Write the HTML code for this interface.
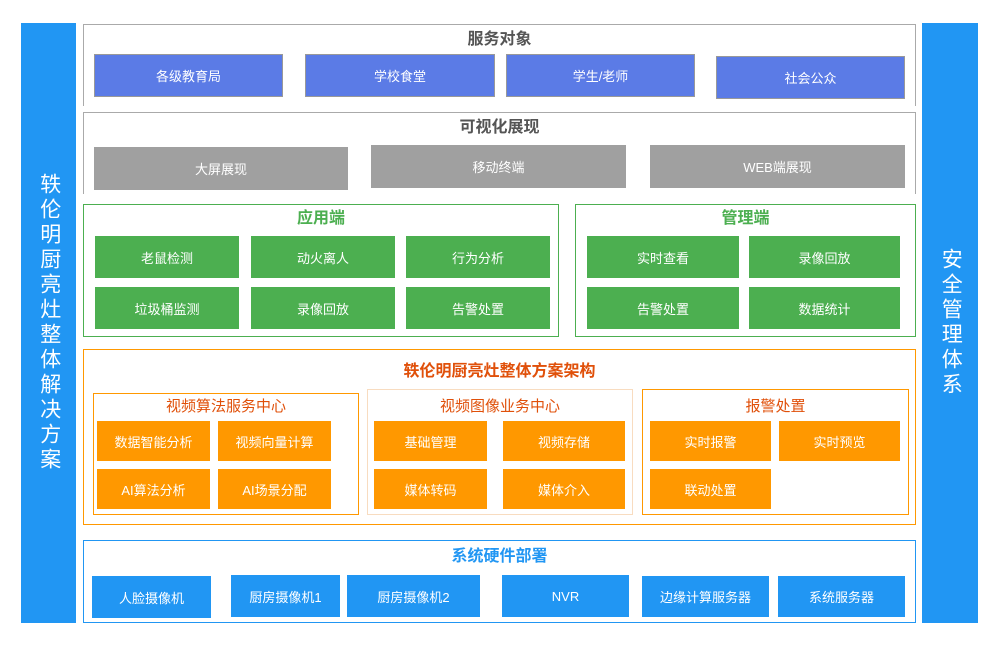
<!DOCTYPE html>
<html><head><meta charset="utf-8"><style>
*{margin:0;padding:0;box-sizing:border-box}
body{width:1000px;height:646px;background:#fff;position:relative;overflow:hidden;font-family:"Liberation Sans","Noto Sans CJK SC",sans-serif}
div{position:absolute}
.b{color:#fff;font-size:13px;display:flex;align-items:center;justify-content:center}
.t{font-weight:bold;font-size:16px;text-align:center;line-height:20px}
.s{font-size:15px;text-align:center;color:#e0500a;line-height:20px}
.bl{background:#5b7be6;border:1px solid #999}
.gr{background:#a0a0a0}
.gn{background:#4caf50}
.or{background:#ff9800}
.bu{background:#2196f3}
.v{color:#fff;font-size:21px;line-height:26.5px;text-align:center;display:flex;align-items:center;justify-content:center;writing-mode:vertical-rl;letter-spacing:4px;background:#2196f3}
</style></head><body>
<div class="v" style="left:21px;top:23px;width:55px;height:600px">轶伦明厨亮灶整体解决方案</div>
<div class="v" style="left:922px;top:23px;width:56px;height:600px">安全管理体系</div>

<div style="left:83px;top:24px;width:833px;height:82px;border:1px solid #aaa;border-bottom:none"></div>
<div class="t" style="left:83px;top:30px;width:833px;color:#555">服务对象</div>
<div class="b bl" style="left:94px;top:54px;width:189px;height:43px">各级教育局</div>
<div class="b bl" style="left:305px;top:54px;width:190px;height:43px">学校食堂</div>
<div class="b bl" style="left:506px;top:54px;width:189px;height:43px">学生/老师</div>
<div class="b bl" style="left:716px;top:56px;width:189px;height:43px">社会公众</div>

<div style="left:83px;top:112px;width:833px;height:82px;border:1px solid #aaa;border-bottom:none"></div>
<div class="t" style="left:83px;top:118px;width:833px;color:#555">可视化展现</div>
<div class="b gr" style="left:94px;top:147px;width:254px;height:43px">大屏展现</div>
<div class="b gr" style="left:371px;top:145px;width:255px;height:43px">移动终端</div>
<div class="b gr" style="left:650px;top:145px;width:255px;height:43px">WEB端展现</div>

<div style="left:83px;top:204px;width:476px;height:133px;border:1px solid #4caf50"></div>
<div class="t" style="left:83px;top:209px;width:476px;color:#4caf50">应用端</div>
<div class="b gn" style="left:95px;top:236px;width:144px;height:42px">老鼠检测</div>
<div class="b gn" style="left:251px;top:236px;width:144px;height:42px">动火离人</div>
<div class="b gn" style="left:406px;top:236px;width:144px;height:42px">行为分析</div>
<div class="b gn" style="left:95px;top:287px;width:144px;height:42px">垃圾桶监测</div>
<div class="b gn" style="left:251px;top:287px;width:144px;height:42px">录像回放</div>
<div class="b gn" style="left:406px;top:287px;width:144px;height:42px">告警处置</div>

<div style="left:575px;top:204px;width:341px;height:133px;border:1px solid #4caf50"></div>
<div class="t" style="left:575px;top:209px;width:341px;color:#4caf50">管理端</div>
<div class="b gn" style="left:587px;top:236px;width:152px;height:42px">实时查看</div>
<div class="b gn" style="left:749px;top:236px;width:151px;height:42px">录像回放</div>
<div class="b gn" style="left:587px;top:287px;width:152px;height:42px">告警处置</div>
<div class="b gn" style="left:749px;top:287px;width:151px;height:42px">数据统计</div>

<div style="left:83px;top:349px;width:833px;height:176px;border:1px solid #ff9800"></div>
<div class="t" style="left:83px;top:362px;width:833px;color:#e0500a">轶伦明厨亮灶整体方案架构</div>
<div style="left:93px;top:393px;width:266px;height:122px;border:1px solid #ff9800"></div>
<div class="s" style="left:93px;top:397px;width:266px">视频算法服务中心</div>
<div style="left:367px;top:389px;width:266px;height:126px;border:1px solid #f8dcc0"></div>
<div class="s" style="left:367px;top:397px;width:266px">视频图像业务中心</div>
<div style="left:642px;top:389px;width:267px;height:126px;border:1px solid #ff9800"></div>
<div class="s" style="left:642px;top:397px;width:267px">报警处置</div>
<div class="b or" style="left:97px;top:421px;width:113px;height:40px">数据智能分析</div>
<div class="b or" style="left:218px;top:421px;width:113px;height:40px">视频向量计算</div>
<div class="b or" style="left:97px;top:469px;width:113px;height:40px">AI算法分析</div>
<div class="b or" style="left:218px;top:469px;width:113px;height:40px">AI场景分配</div>
<div class="b or" style="left:374px;top:421px;width:113px;height:40px">基础管理</div>
<div class="b or" style="left:503px;top:421px;width:122px;height:40px">视频存储</div>
<div class="b or" style="left:374px;top:469px;width:113px;height:40px">媒体转码</div>
<div class="b or" style="left:503px;top:469px;width:122px;height:40px">媒体介入</div>
<div class="b or" style="left:650px;top:421px;width:121px;height:40px">实时报警</div>
<div class="b or" style="left:779px;top:421px;width:121px;height:40px">实时预览</div>
<div class="b or" style="left:650px;top:469px;width:121px;height:40px">联动处置</div>

<div style="left:83px;top:540px;width:833px;height:83px;border:1px solid #2196f3"></div>
<div class="t" style="left:83px;top:547px;width:833px;color:#2196f3">系统硬件部署</div>
<div class="b bu" style="left:92px;top:576px;width:119px;height:42px">人脸摄像机</div>
<div class="b bu" style="left:231px;top:575px;width:109px;height:42px">厨房摄像机1</div>
<div class="b bu" style="left:347px;top:575px;width:133px;height:42px">厨房摄像机2</div>
<div class="b bu" style="left:502px;top:575px;width:127px;height:42px">NVR</div>
<div class="b bu" style="left:642px;top:576px;width:127px;height:41px">边缘计算服务器</div>
<div class="b bu" style="left:778px;top:576px;width:127px;height:41px">系统服务器</div>
</body></html>
